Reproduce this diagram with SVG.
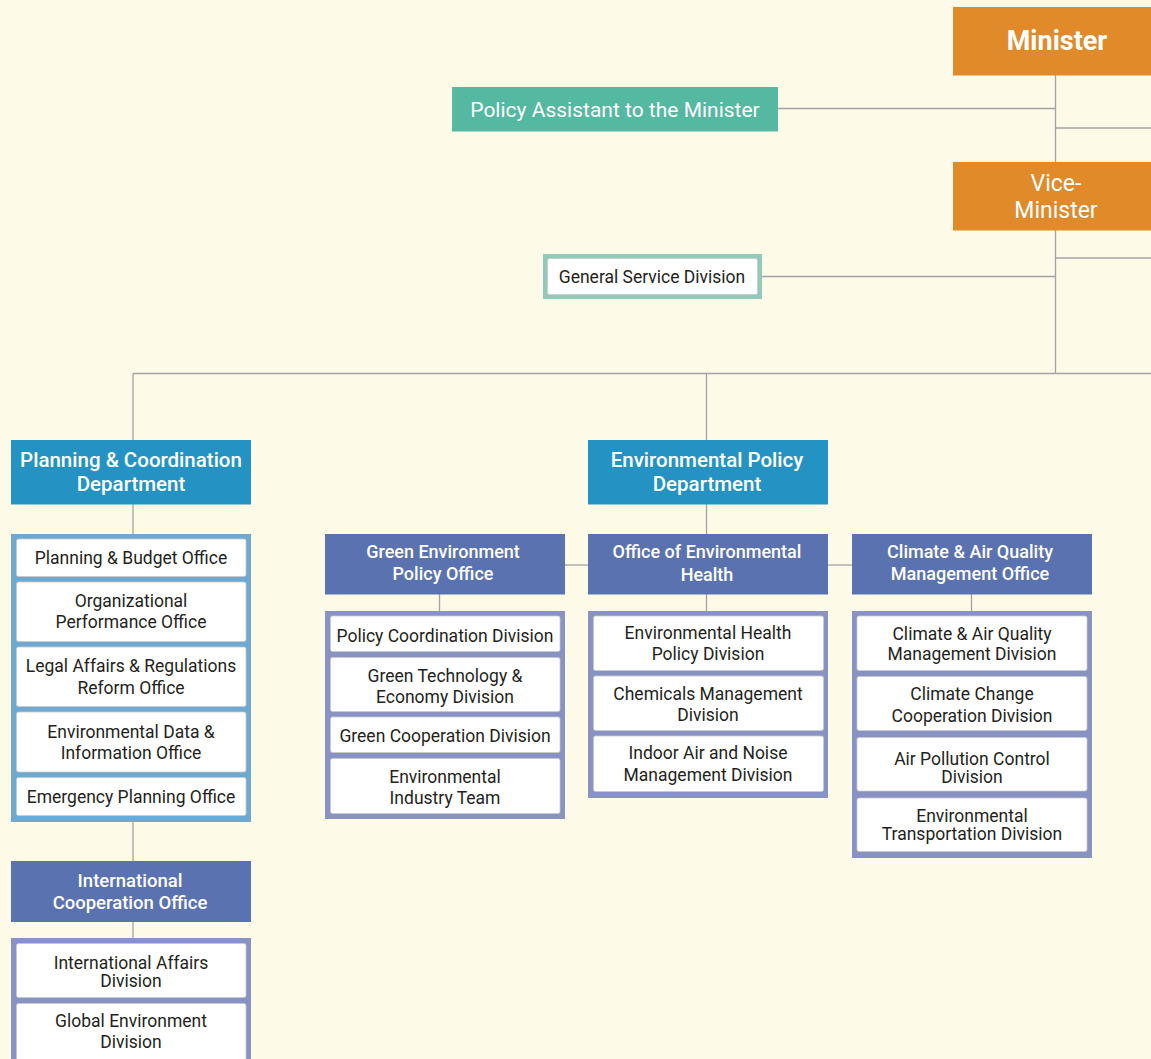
<svg xmlns="http://www.w3.org/2000/svg" width="1151" height="1059" viewBox="0 0 1151 1059">
<style>
text{font-family:Roboto,"Liberation Sans",sans-serif;text-anchor:middle}
.bg{fill:#fefae8}
.ln{stroke:#a3a3a3;stroke-width:1.3;fill:none}
.min{fill:#e08a2a}
.tl{fill:#55b8a0}
.dept{fill:#2493c3}
.off{fill:#5b72b0}
.gb{fill:#6fa9d0}
.gp{fill:#8893c4}
.gt{fill:#8fcbb8}
.it{fill:#ffffff;stroke:#c9c9c9;stroke-width:0.8}
.wt{fill:#ffffff;font-weight:500}
.ht{font-size:20.5px}
.ot{font-size:18px}
.bt{fill:#231f20;font-size:17.5px}
</style>
<rect class="bg" x="0" y="0" width="1151" height="1059"/>
<g id="connectors">
<path class="ln" d="M1055.5 75 V373.5"/>
<path class="ln" d="M778 108.5 H1055.5"/>
<path class="ln" d="M1055.5 128 H1151"/>
<path class="ln" d="M1055.5 258 H1151"/>
<path class="ln" d="M762 276.5 H1055.5"/>
<path class="ln" d="M133 373.5 H1151"/>
<path class="ln" d="M133 373.5 V440"/>
<path class="ln" d="M706.5 373.5 V440"/>
<path class="ln" d="M133 504 V534"/>
<path class="ln" d="M133 822 V861"/>
<path class="ln" d="M133 922 V938"/>
<path class="ln" d="M706.5 504 V534"/>
<path class="ln" d="M706.5 594 V611"/>
<path class="ln" d="M565 565 H588"/>
<path class="ln" d="M828 565 H852"/>
<path class="ln" d="M439.5 594 V611"/>
<path class="ln" d="M971.5 594 V611"/>
</g>
<g id="minister">
<rect class="min" x="953" y="7" width="200" height="68.5"/>
<text fill="#fff" x="1057" y="50" font-size="27" font-weight="700">Minister</text>
</g>
<g id="vice-minister">
<rect class="min" x="953" y="162" width="200" height="68.5"/>
<text fill="#fff" x="1056" y="191" font-size="23">Vice-</text>
<text fill="#fff" x="1056" y="217.5" font-size="23">Minister</text>
</g>
<g id="policy-assistant">
<rect class="tl" x="452" y="87" width="326" height="44.5"/>
<text fill="#fff" x="615" y="116.5" font-size="21">Policy Assistant to the Minister</text>
</g>
<g id="general-service">
<rect class="gt" x="543" y="254" width="219" height="45"/>
<rect class="it" x="547.5" y="258.5" width="210" height="36" rx="2"/>
<text class="bt" x="652" y="283.3" font-size="17">General Service Division</text>
</g>
<g id="planning-dept">
<rect class="dept" x="11" y="440" width="240" height="64.5"/>
<text class="wt ht" x="131" y="466.7">Planning &amp; Coordination</text>
<text class="wt ht" x="131" y="491">Department</text>
</g>
<g id="planning-group">
<rect class="gb" x="11" y="534" width="240" height="288"/>
<rect class="it" x="16.5" y="539" width="229.5" height="37.5" rx="2"/>
<text class="bt" x="131" y="564">Planning &amp; Budget Office</text>
<rect class="it" x="16.5" y="582" width="229.5" height="59.5" rx="2"/>
<text class="bt" x="131" y="606.5">Organizational</text>
<text class="bt" x="131" y="628">Performance Office</text>
<rect class="it" x="16.5" y="647" width="229.5" height="59.5" rx="2"/>
<text class="bt" x="131" y="672">Legal Affairs &amp; Regulations</text>
<text class="bt" x="131" y="693.5">Reform Office</text>
<rect class="it" x="16.5" y="712" width="229.5" height="60" rx="2"/>
<text class="bt" x="131" y="737.5">Environmental Data &amp;</text>
<text class="bt" x="131" y="758.5">Information Office</text>
<rect class="it" x="16.5" y="777.5" width="229.5" height="38" rx="2"/>
<text class="bt" x="131" y="803">Emergency Planning Office</text>
</g>
<g id="intl-office">
<rect class="off" x="11" y="861" width="240" height="61"/>
<text class="wt" x="130" y="886.5" font-size="18.5">International</text>
<text class="wt" x="130" y="908.5" font-size="18.5">Cooperation Office</text>
</g>
<g id="intl-group">
<rect class="gp" x="11" y="938" width="240" height="130"/>
<rect class="it" x="16.5" y="943.5" width="229.5" height="54" rx="2"/>
<text class="bt" x="131" y="969.3">International Affairs</text>
<text class="bt" x="131" y="987.3">Division</text>
<rect class="it" x="16.5" y="1003.5" width="229.5" height="60" rx="2"/>
<text class="bt" x="131" y="1026.7">Global Environment</text>
<text class="bt" x="131" y="1048.3">Division</text>
</g>
<g id="env-policy-dept">
<rect class="dept" x="588" y="440" width="240" height="64.5"/>
<text class="wt ht" x="707" y="466.7">Environmental Policy</text>
<text class="wt ht" x="707" y="491">Department</text>
</g>
<g id="green-office">
<rect class="off" x="325" y="534" width="240" height="60.5"/>
<text class="wt ot" x="443" y="558.3">Green Environment</text>
<text class="wt ot" x="443" y="580">Policy Office</text>
</g>
<g id="green-group">
<rect class="gp" x="325" y="611" width="240" height="208"/>
<rect class="it" x="330.5" y="616" width="229.5" height="35.5" rx="2"/>
<text class="bt" x="445" y="642">Policy Coordination Division</text>
<rect class="it" x="330.5" y="657.5" width="229.5" height="54" rx="2"/>
<text class="bt" x="445" y="681.7">Green Technology &amp;</text>
<text class="bt" x="445" y="702.7">Economy Division</text>
<rect class="it" x="330.5" y="717" width="229.5" height="35.5" rx="2"/>
<text class="bt" x="445" y="742.3">Green Cooperation Division</text>
<rect class="it" x="330.5" y="758.5" width="229.5" height="55" rx="2"/>
<text class="bt" x="445" y="783.3">Environmental</text>
<text class="bt" x="445" y="804.3">Industry Team</text>
</g>
<g id="health-office">
<rect class="off" x="588" y="534" width="240" height="60.5"/>
<text class="wt ot" x="707" y="558.3">Office of Environmental</text>
<text class="wt ot" x="707" y="580.5">Health</text>
</g>
<g id="health-group">
<rect class="gp" x="588" y="611" width="240" height="187"/>
<rect class="it" x="593.5" y="616" width="230" height="54.5" rx="2"/>
<text class="bt" x="708" y="639.3">Environmental Health</text>
<text class="bt" x="708" y="660">Policy Division</text>
<rect class="it" x="593.5" y="676" width="230" height="54.5" rx="2"/>
<text class="bt" x="708" y="700">Chemicals Management</text>
<text class="bt" x="708" y="721">Division</text>
<rect class="it" x="593.5" y="736" width="230" height="55.5" rx="2"/>
<text class="bt" x="708" y="759.3">Indoor Air and Noise</text>
<text class="bt" x="708" y="781">Management Division</text>
</g>
<g id="climate-office">
<rect class="off" x="852" y="534" width="240" height="60.5"/>
<text class="wt ot" x="970" y="558.3">Climate &amp; Air Quality</text>
<text class="wt ot" x="970" y="580">Management Office</text>
</g>
<g id="climate-group">
<rect class="gp" x="852" y="611" width="240" height="247"/>
<rect class="it" x="857" y="616" width="230" height="54.5" rx="2"/>
<text class="bt" x="972" y="640">Climate &amp; Air Quality</text>
<text class="bt" x="972" y="660">Management Division</text>
<rect class="it" x="857" y="676.5" width="230" height="54" rx="2"/>
<text class="bt" x="972" y="700">Climate Change</text>
<text class="bt" x="972" y="721.7">Cooperation Division</text>
<rect class="it" x="857" y="737.5" width="230" height="53.5" rx="2"/>
<text class="bt" x="972" y="765">Air Pollution Control</text>
<text class="bt" x="972" y="782.7">Division</text>
<rect class="it" x="857" y="798" width="230" height="53.5" rx="2"/>
<text class="bt" x="972" y="821.7">Environmental</text>
<text class="bt" x="972" y="840">Transportation Division</text>
</g>
</svg>
